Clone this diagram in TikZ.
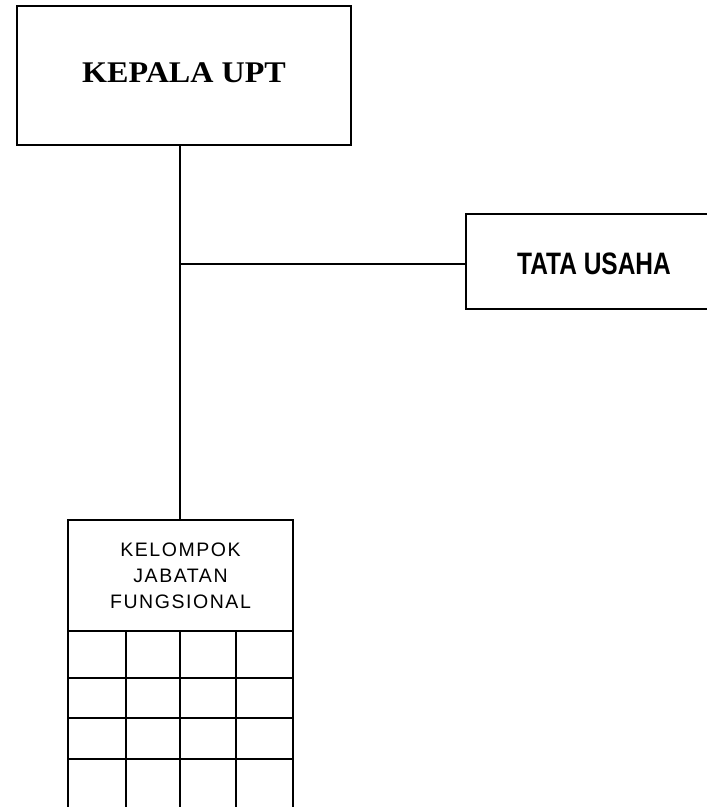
\documentclass[tikz,border=0pt]{standalone}
\usepackage{fontspec}
\setmainfont{Liberation Serif}
\newfontfamily\headsans{Liberation Sans}
\newfontfamily\spacedsans[LetterSpace=8]{Liberation Sans}
% shift a label vertically without changing its box
\newcommand{\nudge}[2]{\raisebox{#1}[\height][\depth]{#2}}
\begin{document}
\begin{tikzpicture}[x=1pt,y=-1pt,
  unitbox/.style={draw,line width=2pt,rectangle,inner sep=0pt,align=center},
  link/.style={line width=2pt}]
\useasboundingbox (0,0) rectangle (707,807);
\clip (0,0) rectangle (707,807);

% head of the unit
\node[unitbox,minimum width=334pt,minimum height=139pt,
      font=\fontsize{30}{33}\selectfont\bfseries] (kepala) at (184,75.5)
      {\nudge{3pt}{\scalebox{1.07}[1]{KEPALA UPT}}};

% administration office
\node[unitbox,minimum width=256pt,minimum height=95pt,
      font=\headsans\fontsize{31}{34}\selectfont\bfseries] (tata) at (594,261.5)
      {\nudge{-2.5pt}{\scalebox{0.79}[1]{TATA USAHA}}};

% functional group header
\node[unitbox,minimum width=225pt,minimum height=111pt,
      font=\spacedsans\fontsize{19.5}{26}\selectfont] (klp) at (180.5,575.5)
      {KELOMPOK\\JABATAN\\FUNGSIONAL};

% member grid under the header
\draw[link] (68,631) -- (68,830) (126,631) -- (126,830) (180,631) -- (180,830)
            (236,631) -- (236,830) (293,631) -- (293,830);
\draw[link] (68,678) -- (293,678) (68,718) -- (293,718) (68,759) -- (293,759);

% connectors
\coordinate (j) at (180,264);
\draw[link] (j |- kepala.south) -- (j |- klp.north);
\draw[link] (j) -- (j -| tata.west);
\end{tikzpicture}
\end{document}
